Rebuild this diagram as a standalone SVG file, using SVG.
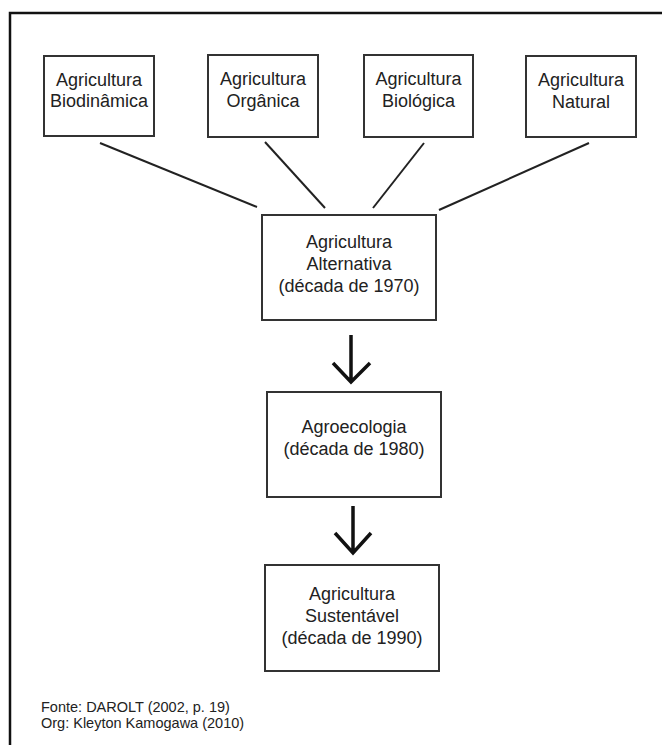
<svg xmlns="http://www.w3.org/2000/svg" width="662" height="745" viewBox="0 0 662 745">
<style>
.box{fill:#fff;stroke:#333;stroke-width:2}
.t{font-family:"Liberation Sans",Arial,sans-serif;font-size:18px;fill:#222;text-anchor:middle}
.note{font-family:"Liberation Sans",Arial,sans-serif;font-size:14.5px;fill:#222}
.ln{stroke:#222;stroke-width:2;fill:none}
.ar{stroke:#111;stroke-width:3.5;fill:none;stroke-linecap:butt;stroke-linejoin:miter}
</style>
<rect width="662" height="745" fill="#fff"/>
<path d="M10,745 V13 H662" fill="none" stroke="#111" stroke-width="2.5"/>
<g id="connectors">
<line class="ln" x1="100" y1="143" x2="257" y2="207"/>
<line class="ln" x1="265" y1="142" x2="325" y2="208"/>
<line class="ln" x1="424" y1="143" x2="373" y2="208"/>
<line class="ln" x1="589" y1="143" x2="439" y2="210"/>
<path class="ar" d="M351,335 V382 M333,363 L351,382 L370,363"/>
<path class="ar" d="M353,506 V553 M335,533 L353,553 L371,533"/>
</g>
<g id="n1"><rect class="box" x="44" y="56" width="110" height="80"/>
<text class="t" x="99" y="86">Agricultura</text><text class="t" x="99" y="107">Biodinâmica</text></g>
<g id="n2"><rect class="box" x="208" y="55" width="110" height="82"/>
<text class="t" x="263" y="85">Agricultura</text><text class="t" x="263" y="107">Orgânica</text></g>
<g id="n3"><rect class="box" x="364" y="55" width="109" height="82"/>
<text class="t" x="418.5" y="85">Agricultura</text><text class="t" x="418.5" y="107">Biológica</text></g>
<g id="n4"><rect class="box" x="526" y="56" width="110" height="81"/>
<text class="t" x="581" y="86">Agricultura</text><text class="t" x="581" y="108">Natural</text></g>
<g id="n5"><rect class="box" x="262" y="215" width="174" height="105"/>
<text class="t" x="349" y="248">Agricultura</text><text class="t" x="349" y="270">Alternativa</text><text class="t" x="349" y="292">(década de 1970)</text></g>
<g id="n6"><rect class="box" x="267" y="392" width="174" height="105"/>
<text class="t" x="354" y="433">Agroecologia</text><text class="t" x="354" y="455">(década de 1980)</text></g>
<g id="n7"><rect class="box" x="265" y="565" width="174" height="106"/>
<text class="t" x="352" y="600">Agricultura</text><text class="t" x="352" y="622">Sustentável</text><text class="t" x="352" y="644">(década de 1990)</text></g>
<g id="footnote">
<text class="note" x="41" y="712">Fonte: DAROLT (2002, p. 19)</text>
<text class="note" x="41" y="728">Org: Kleyton Kamogawa (2010)</text>
</g>
</svg>
